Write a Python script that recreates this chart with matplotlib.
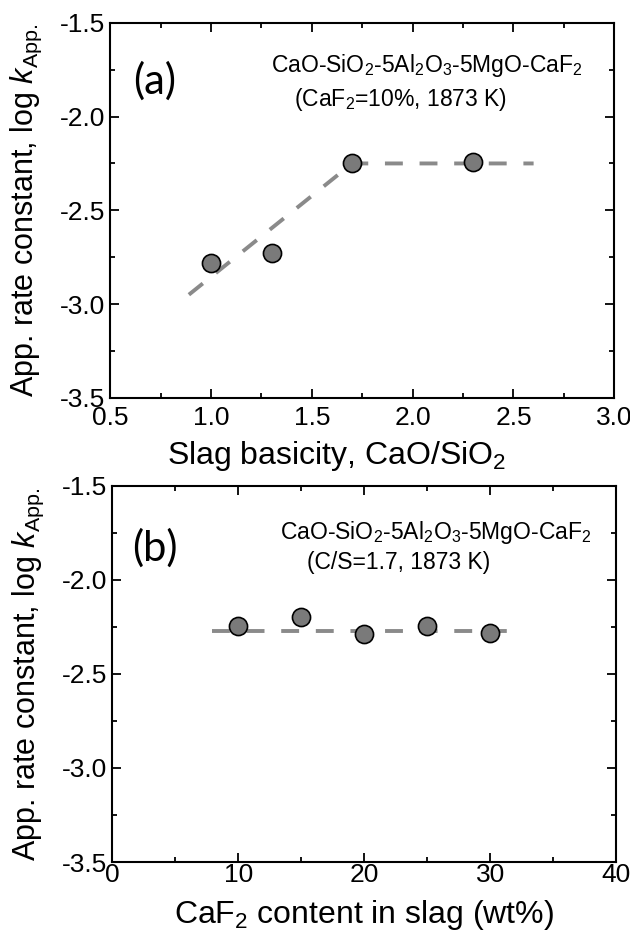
import matplotlib
matplotlib.use("Agg")
from matplotlib import pyplot as plt
from matplotlib.ticker import MultipleLocator

plt.rcParams['font.family'] = ['Liberation Sans', 'DejaVu Sans']
plt.rcParams['mathtext.fontset'] = 'custom'
plt.rcParams['mathtext.rm'] = 'Liberation Sans'
plt.rcParams['mathtext.it'] = 'Liberation Sans:italic'
plt.rcParams['axes.unicode_minus'] = False

# panel (a): basicity
basicity = [1.0, 1.3, 1.7, 2.3]
logk_a = [-2.78, -2.73, -2.25, -2.24]
fit_a_x = [0.89, 1.7, 2.6]
fit_a_y = [-2.95, -2.25, -2.25]

# panel (b): CaF2 content
caf2 = [10, 15, 20, 25, 30]
logk_b = [-2.245, -2.20, -2.287, -2.245, -2.28]
fit_b_x = [7.9, 32.1]
fit_b_y = [-2.27, -2.27]

fig = plt.figure(figsize=(6.3, 9.36), dpi=100)
ax1 = fig.add_axes([0.175, 0.575, 0.800, 0.4006])
ax2 = fig.add_axes([0.178, 0.079, 0.800, 0.402])

ylab = r'App. rate constant, log $\it{k}$$_{\mathrm{App.}}$'

def style(ax, pad):
    ax.set_ylim(-3.5, -1.5)
    ax.yaxis.set_major_locator(MultipleLocator(0.5))
    ax.yaxis.set_minor_locator(MultipleLocator(0.25))
    ax.tick_params(which='both', direction='in', top=True, right=True, width=1.3)
    ax.tick_params(which='major', length=6.5, labelsize=19)
    ax.tick_params(axis='x', which='major', pad=pad)
    ax.tick_params(which='minor', length=3.5)
    for s in ax.spines.values():
        s.set_linewidth(1.5)
    ax.set_ylabel(ylab, fontsize=22)
    ax.yaxis.set_label_coords(-0.131, 0.5)

# (a)
ax1.plot(fit_a_x, fit_a_y, '--', color='#8a8a8a', lw=2.8, dashes=(4.6, 4.3), zorder=1)
ax1.scatter(basicity, logk_a, s=170, color='#7a7a7a', edgecolor='black', lw=1.2, zorder=3)
ax1.set_xlim(0.5, 3.0)
ax1.xaxis.set_major_locator(MultipleLocator(0.5))
ax1.xaxis.set_minor_locator(MultipleLocator(0.25))
style(ax1, 6)
ax1.set_xlabel(r'Slag basicity, CaO/SiO$_\mathrm{2}$', fontsize=23, labelpad=4)
ax1.xaxis.set_label_coords(0.45, -0.11)
ax1.text(0.046, 0.845, '(a)', transform=ax1.transAxes, fontsize=30, va='center',
         family=['Lato', 'DejaVu Sans'])
ax1.text(0.629, 0.885, r'CaO-SiO$_2$-5Al$_2$O$_3$-5MgO-CaF$_2$', transform=ax1.transAxes,
         fontsize=16.5, ha='center', va='center')
ax1.text(0.575, 0.795, r'(CaF$_2$=10%, 1873 K)', transform=ax1.transAxes,
         fontsize=16.5, ha='center', va='center')

# (b)
ax2.plot(fit_b_x, fit_b_y, '--', color='#8a8a8a', lw=2.8, dashes=(4.6, 4.3), zorder=1)
ax2.scatter(caf2, logk_b, s=170, color='#7a7a7a', edgecolor='black', lw=1.2, zorder=3)
ax2.set_xlim(0, 40)
ax2.xaxis.set_major_locator(MultipleLocator(10))
ax2.xaxis.set_minor_locator(MultipleLocator(5))
style(ax2, 1)
ax2.set_xlabel(r'CaF$_2$ content in slag (wt%)', fontsize=23)
ax2.xaxis.set_label_coords(0.5, -0.095)
ax2.text(0.040, 0.835, '(b)', transform=ax2.transAxes, fontsize=30, va='center',
         family=['Lato', 'DejaVu Sans'])
ax2.text(0.643, 0.875, r'CaO-SiO$_2$-5Al$_2$O$_3$-5MgO-CaF$_2$', transform=ax2.transAxes,
         fontsize=16.5, ha='center', va='center')
ax2.text(0.569, 0.795, '(C/S=1.7, 1873 K)', transform=ax2.transAxes,
         fontsize=16.5, ha='center', va='center')

fig.savefig('out.png', dpi=100)
